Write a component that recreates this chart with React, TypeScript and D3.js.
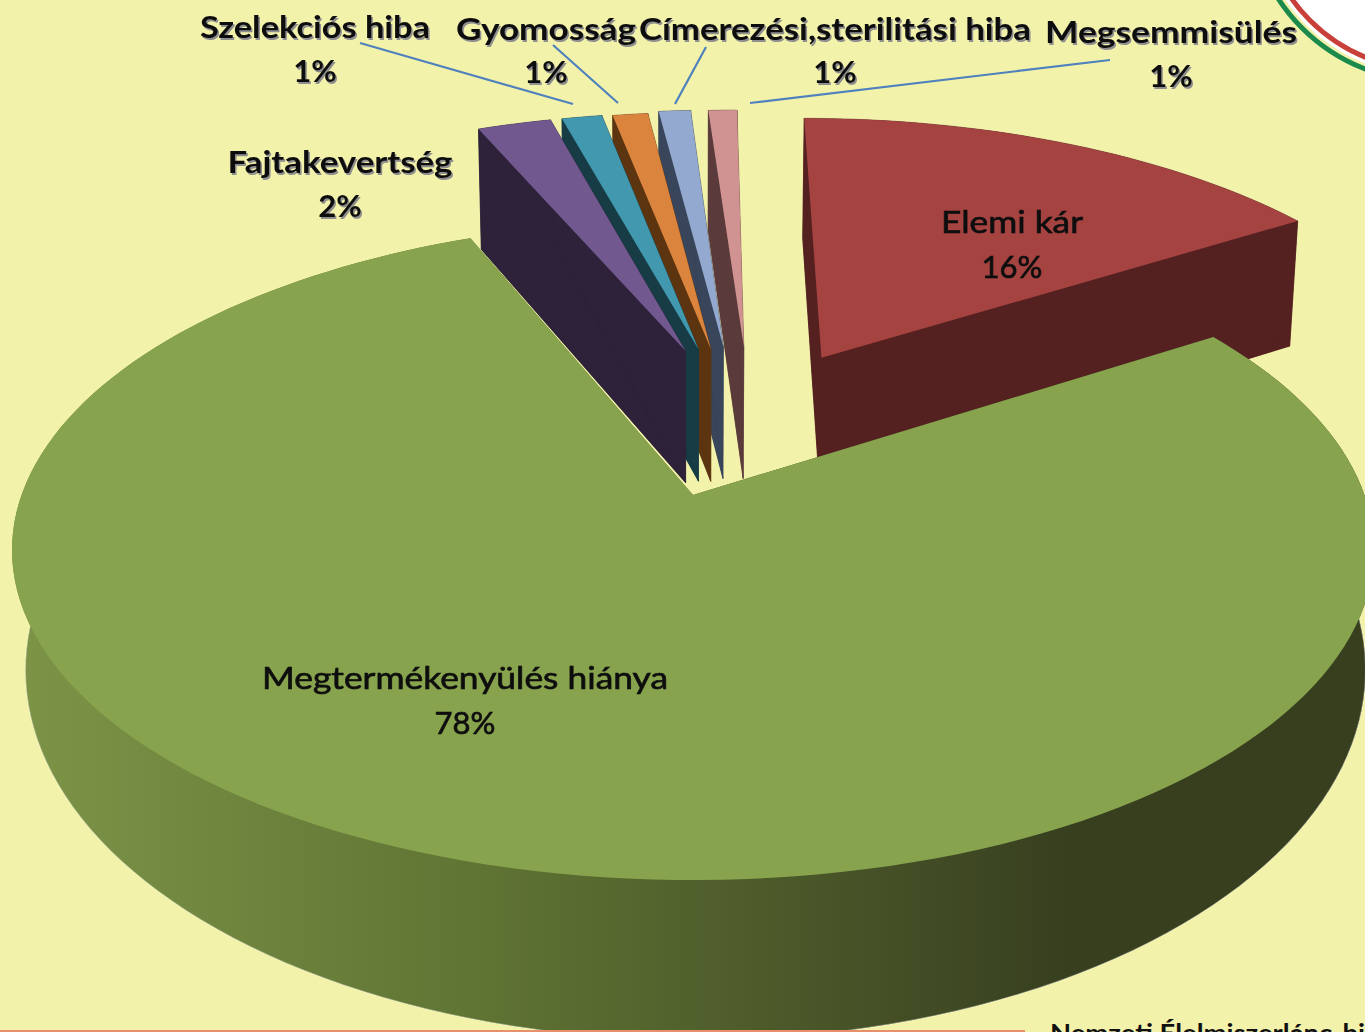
import React from "react";
import * as d3 from "d3";

const categories = ["Elemi kár", "Megtermékenyülés hiánya", "Fajtakevertség", "Szelekciós hiba", "Gyomosság", "Címerezési,sterilitási hiba", "Megsemmisülés"];
const shares = [16, 77.75, 2.2, 1.2, 1.05, 0.95, 0.85];
const shareLabels = ["16%", "78%", "2%", "1%", "1%", "1%", "1%"];
const faceColors = ["#a54341", "#88a34d", "#71588f", "#4198af", "#db843d", "#93a9cf", "#d19392"];
const wallColors = ["#542020", "#4f5f2b", "#2d2239", "#173c45", "#5c3510", "#39455a", "#5a3a3a"];
// Slice displacement in the pie's own (unit disc) plane
const explodeX = [0.206, 0, -0.012, 0.009, 0.029, 0.049, 0.082];
const explodeY = [-0.46, 0, -0.485, -0.49, -0.49, -0.5, -0.5];

// layout of labels: [centre x, baseline of name, baseline of percent]
const labelLayout: [number, number, number][] = [
  [1012, 233, 278], [465, 689, 734], [340, 173, 217], [315, 38, 82], [546, 40, 83], [835, 40, 83], [1171, 43, 87],
];
const labelWidths = [142, 406, 225, 230, 180, 392, 252];
const outside = [false, false, true, true, true, true, true];
const leaderStarts: ([number, number] | null)[] = [null, null, null, [360, 43], [553, 45], [706, 47], [1110, 60]];
const leaderEnds: ([number, number] | null)[] = [null, null, null, [573, 104], [618, 103], [675, 104], [750, 103]];

type Plane = { cx: number; cy: number; rx: number; ry: number; a: number };
const topPlane: Plane = { cx: 693, cy: 550, rx: 681, ry: 330, a: -0.167 };
const mainFloor: Plane = { cx: 695.5, cy: 670, rx: 670, ry: 370, a: -0.167 };
const pieceFloor: Plane = { cx: 693, cy: 692, rx: 672, ry: 347, a: -0.167 };

function project(pl: Plane, s: number, c: number): [number, number] {
  const d = 1 + pl.a * c;
  return [pl.cx + (pl.rx * s * Math.sqrt(1 - pl.a * pl.a)) / d, pl.cy + (pl.ry * (c + pl.a)) / d];
}
const pie = d3.pie<number>().sort(null).value((d) => d)(shares);
function rimPts(pl: Plane, ex: number, ey: number, a0: number, a1: number): [number, number][] {
  const n = Math.max(2, Math.ceil((a1 - a0) / 0.03));
  return d3.range(n + 1).map((k) => {
    const t = a0 + ((a1 - a0) * k) / n;
    return project(pl, ex + Math.sin(t), ey - Math.cos(t));
  });
}
const line = d3.line();
const closed = (p: [number, number][]) => line(p)! + "Z";
function sector(pl: Plane, i: number) {
  const { startAngle, endAngle } = pie[i];
  const ex = explodeX[i], ey = explodeY[i];
  return { rim: rimPts(pl, ex, ey, startAngle, endAngle), apex: project(pl, ex, ey) };
}
function extrusion(i: number, floor: Plane): string[] {
  const a = sector(topPlane, i), b = sector(floor, i);
  return [
    closed([a.apex, b.apex, b.rim[0], a.rim[0]]),
    closed([a.apex, b.apex, b.rim[b.rim.length - 1], a.rim[a.rim.length - 1]]),
    closed([...a.rim, ...[...b.rim].reverse()]),
    closed([b.apex, ...b.rim]),
  ];
}
const faceOf = (i: number) => {
  const s = sector(topPlane, i);
  return closed([s.apex, ...s.rim]);
};

const FONT = "Lato, 'Open Sans', sans-serif";
const drawOrder = [0, 6, 5, 4, 3, 2];

export default function App() {
  return (
    <svg width={1365} height={1032} viewBox="0 0 1365 1032" style={{ position: "absolute", left: 0, top: 0, display: "block", background: "#f3f2ab" }}>
      <defs>
        <linearGradient id="wall" gradientUnits="userSpaceOnUse" x1="15" x2="1365" y1="0" y2="0">
          <stop offset="0" stopColor="#7d9447" />
          <stop offset="0.35" stopColor="#5f7333" />
          <stop offset="0.65" stopColor="#444f26" />
          <stop offset="0.78" stopColor="#373f1f" />
          <stop offset="1" stopColor="#373f1f" />
        </linearGradient>
        <filter id="soft" x="-5%" y="-20%" width="110%" height="140%"><feGaussianBlur stdDeviation="0.55" /></filter>
        <filter id="softer" x="-5%" y="-20%" width="110%" height="140%"><feGaussianBlur stdDeviation="0.4" /></filter>
      </defs>
      <rect width={1365} height={1032} fill="#f3f2ab" />
      <circle cx={1430} cy={-100} r={176} fill="#ffffff" filter="url(#soft)" />
      <circle cx={1430} cy={-100} r={170} fill="none" stroke="#c9403a" strokeWidth={5} filter="url(#softer)" />
      <circle cx={1430} cy={-100} r={181} fill="none" stroke="#1f8a4c" strokeWidth={5} filter="url(#softer)" />

      {drawOrder.map((i) => (
        <g key={categories[i]}>
          {extrusion(i, pieceFloor).map((d, k) => <path key={k} d={d} fill={wallColors[i]} stroke={wallColors[i]} strokeWidth={0.5} />)}
          <path d={faceOf(i)} fill={faceColors[i]} />
        </g>
      ))}

      {extrusion(1, mainFloor).map((d, k) => <path key={k} d={d} fill="url(#wall)" />)}
      <path d={line(sector(mainFloor, 1).rim)!} fill="none" stroke="#ffffff" strokeOpacity={0.4} strokeWidth={1} />
      <path d={faceOf(1)} fill={faceColors[1]} />

      {leaderStarts.map((st, i) => {
        const en = leaderEnds[i];
        if (!st || !en) return null;
        return <line key={i} x1={st[0]} y1={st[1]} x2={en[0]} y2={en[1]} stroke="#4f81bd" strokeWidth={2.2} filter="url(#softer)" />;
      })}

      {categories.map((name, i) => {
        const [x, y1, y2] = labelLayout[i];
        const bold = outside[i];
        const common = { textAnchor: "middle" as const, fontFamily: FONT, fontSize: 31, fontWeight: bold ? 700 : 400 };
        return (
          <g key={name} filter="url(#soft)">
            {bold && (
              <g fill="#8f8f8f">
                <text {...common} x={x + 1.5} y={y1 + 2} textLength={labelWidths[i]} lengthAdjust="spacingAndGlyphs">{name}</text>
                <text {...common} x={x + 1.5} y={y2 + 2}>{shareLabels[i]}</text>
              </g>
            )}
            <g fill="#111111" stroke={bold ? "none" : "#111111"} strokeWidth={bold ? 0 : 0.7}>
              <text {...common} x={x} y={y1} textLength={labelWidths[i]} lengthAdjust="spacingAndGlyphs">{name}</text>
              <text {...common} x={x} y={y2}>{shareLabels[i]}</text>
            </g>
          </g>
        );
      })}

      <rect x={0} y={1030} width={1025} height={2} fill="#e8906c" />
      <text x={1050} y={1042} fontFamily={FONT} fontSize={25} fontWeight={700} fill="#111111" textLength={315} lengthAdjust="spacingAndGlyphs">Nemzeti Élelmiszerlánc-bi</text>
    </svg>
  );
}
